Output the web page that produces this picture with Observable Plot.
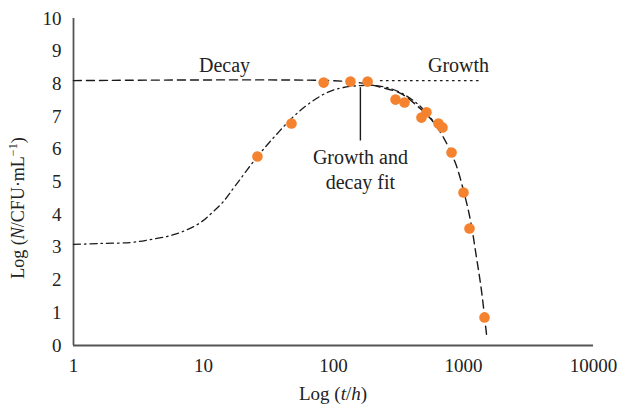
<!DOCTYPE html>
<html>
<head>
<meta charset="utf-8">
<script src="https://cdn.jsdelivr.net/npm/d3@7"></script>
<script src="https://cdn.jsdelivr.net/npm/@observablehq/plot@0.6"></script>
<style>
  html, body { margin: 0; padding: 0; background: #fff; }
  #chart { width: 617px; height: 406px; }
</style>
</head>
<body>
<div id="chart"></div>
<script>
// Observed data (time in h, log N)
const obsTime = [26, 47.5, 84, 135, 183, 300, 352, 475, 519, 642, 689, 809, 1000, 1112, 1451];
const obsLogN = [5.78, 6.79, 8.04, 8.07, 8.07, 7.52, 7.43, 6.97, 7.13, 6.79, 6.67, 5.90, 4.68, 3.58, 0.86];

// Decay model curve (dashed)
const decayTime = [1, 95, 161, 230, 328, 428, 557, 702, 868, 1000, 1132, 1259, 1375, 1503];
const decayLogN = [8.1, 8.1, 8.03, 7.9, 7.71, 7.37, 6.94, 6.36, 5.57, 4.74, 3.82, 2.69, 1.68, 0.34];

// Growth and decay fit (dash-dot)
const fitTime = [1, 1.61, 2.74, 3.91, 5.57, 7.27, 9.48, 11.7, 14.0, 17.6, 26.0, 35.8, 49.2, 66.5, 89.9, 119, 161, 210, 274, 358, 467, 578];
const fitLogN = [3.09, 3.12, 3.15, 3.24, 3.36, 3.52, 3.76, 4.07, 4.37, 4.89, 5.78, 6.42, 7.0, 7.43, 7.74, 7.89, 7.95, 7.95, 7.86, 7.65, 7.31, 6.88];

// Growth plateau (dotted)
const growthTime = [230, 1400];
const growthLogN = [8.1, 8.1];

// Axis ticks
const xTicks = [1, 10, 100, 1000, 10000];
const yTicks = [0, 1, 2, 3, 4, 5, 6, 7, 8, 9, 10];

// Annotations
const annText = ["Decay", "Growth", "Growth and", "decay fit"];
const annTime = [14.5, 915, 161, 161];
const annLogN = [8.55, 8.55, 5.75, 4.98];
const pointerTime = [161];
const pointerFrom = [7.9];
const pointerTo = [6.27];

const obs = obsTime.map((t, i) => ({t, n: obsLogN[i]}));
const decay = decayTime.map((t, i) => ({t, n: decayLogN[i]}));
const fit = fitTime.map((t, i) => ({t, n: fitLogN[i]}));
const growth = growthTime.map((t, i) => ({t, n: growthLogN[i]}));
const ann = annText.map((s, i) => ({s, t: annTime[i], n: annLogN[i]}));
const pointer = pointerTime.map((t, i) => ({t, a: pointerFrom[i], b: pointerTo[i]}));

const FONT = "'Liberation Serif', 'DejaVu Serif', serif";
const axisColor = "#555";
const lineColor = "#1a1a1a";

const chart = Plot.plot({
  width: 617,
  height: 406,
  marginLeft: 73,
  marginRight: 24,
  marginTop: 18,
  marginBottom: 61,
  style: {fontFamily: FONT, fontSize: "19px", color: "#222", background: "#fff"},
  x: {type: "log", domain: [1, 10000], ticks: xTicks, tickFormat: d3.format("d"), label: null},
  y: {domain: [0, 10], ticks: yTicks, label: null},
  marks: [
    Plot.axisX({ticks: xTicks, tickFormat: d3.format("d"), tickSize: 0, tickPadding: 13, label: null, fontSize: 19}),
    Plot.axisY({ticks: yTicks, tickSize: 0, tickPadding: 12, label: null, fontSize: 19}),
    Plot.ruleY([0], {x1: 1, x2: 10000, stroke: axisColor, strokeWidth: 1.8}),
    Plot.ruleX([1], {y1: 0, y2: 10, stroke: axisColor, strokeWidth: 1.8}),
    Plot.line(growth, {x: "t", y: "n", stroke: lineColor, strokeWidth: 1.4, strokeDasharray: "1.5,4.5"}),
    Plot.line(fit, {x: "t", y: "n", curve: "catmull-rom", stroke: lineColor, strokeWidth: 1.3, strokeDasharray: "7,4,1.5,4"}),
    Plot.line(decay, {x: "t", y: "n", curve: "catmull-rom", stroke: lineColor, strokeWidth: 1.4, strokeDasharray: "8,5"}),
    Plot.link(pointer, {x1: "t", x2: "t", y1: "a", y2: "b", stroke: lineColor, strokeWidth: 1.4}),
    Plot.dot(obs, {x: "t", y: "n", r: 5.3, fill: "#F4822E", stroke: "none"}),
    Plot.text(ann, {x: "t", y: "n", text: "s", fontSize: 20, fill: "#222", fontFamily: FONT})
  ]
});

const svg = d3.select(chart);
// Y axis label with rich text
const yl = svg.append("text")
  .attr("transform", "translate(24,208) rotate(-90)")
  .attr("text-anchor", "middle")
  .attr("font-family", FONT)
  .attr("font-size", 18)
  .attr("fill", "#222");
yl.append("tspan").text("Log (");
yl.append("tspan").attr("font-style", "italic").text("N");
yl.append("tspan").text("/CFU·mL");
yl.append("tspan").attr("font-size", 12).attr("dy", -7).text("−1");
yl.append("tspan").attr("dy", 7).text(")");

// X axis label with rich text
const xl = svg.append("text")
  .attr("x", 333)
  .attr("y", 400)
  .attr("text-anchor", "middle")
  .attr("font-family", FONT)
  .attr("font-size", 19)
  .attr("fill", "#222");
xl.append("tspan").text("Log (");
xl.append("tspan").attr("font-style", "italic").text("t");
xl.append("tspan").text("/");
xl.append("tspan").attr("font-style", "italic").text("h");
xl.append("tspan").text(")");

document.getElementById("chart").appendChild(chart);
</script>
</body>
</html>
